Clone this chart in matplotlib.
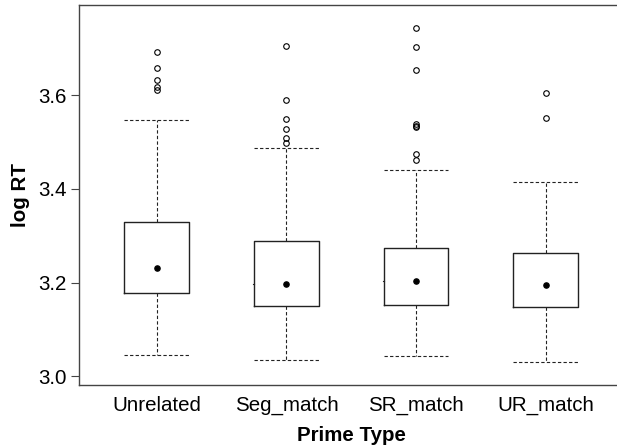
import matplotlib
matplotlib.use("Agg")
import matplotlib.pyplot as plt

plt.rcParams['font.family'] = ['Liberation Sans', 'DejaVu Sans']

prime_types = ['Unrelated', 'Seg_match', 'SR_match', 'UR_match']
q1 = [3.177, 3.150, 3.151, 3.148]
medians = [3.230, 3.196, 3.203, 3.194]
q3 = [3.329, 3.289, 3.274, 3.264]
whisker_lo = [3.046, 3.035, 3.042, 3.030]
whisker_hi = [3.548, 3.488, 3.441, 3.415]
outliers = [
    [3.692, 3.658, 3.633, 3.617, 3.611],
    [3.705, 3.590, 3.549, 3.528, 3.508, 3.499],
    [3.744, 3.704, 3.654, 3.538, 3.535, 3.532, 3.474, 3.462],
    [3.604, 3.551],
]
yticks = [3.0, 3.2, 3.4, 3.6]

stats = []
for i, name in enumerate(prime_types):
    stats.append(dict(label=name, med=medians[i], q1=q1[i], q3=q3[i],
                      whislo=whisker_lo[i], whishi=whisker_hi[i],
                      fliers=outliers[i]))

fig = plt.figure(figsize=(6.17, 4.47), dpi=100)
ax = fig.add_axes([79/617, 62/447, 544.5/617, 380/447])

pos = list(range(1, len(prime_types) + 1))
dash = (0, (3, 2))
ax.bxp(stats, positions=pos, widths=0.5, capwidths=0.5,
       boxprops=dict(color='#222222', linewidth=1.0),
       whiskerprops=dict(color='#222222', linewidth=0.8, linestyle=dash),
       capprops=dict(color='#222222', linewidth=0.8, linestyle=dash),
       medianprops=dict(linewidth=0),
       flierprops=dict(marker='o', markersize=4, markerfacecolor='none',
                       markeredgecolor='black', markeredgewidth=0.8))

# median shown as a filled dot plus a tiny tick on the box edge
ax.scatter(pos, medians, s=14, color='black', zorder=5)
for p, m in zip(pos, medians):
    ax.plot([p - 0.25 - 0.006, p - 0.25], [m, m], color='#222222', lw=0.8)

ax.set_xlim(0.4, 4.6)
ax.set_ylim(2.981, 3.793)
ax.set_yticks(yticks)
ax.set_yticklabels([f'{t:.1f}' for t in yticks])
ax.set_xticks(pos)
ax.set_xticklabels(prime_types)

ax.tick_params(axis='x', length=0, pad=8, labelsize=14.8)
ax.tick_params(axis='y', length=6, width=0.8, color='#444444', pad=3, labelsize=14.8)
for s in ax.spines.values():
    s.set_color('#444444')
    s.set_linewidth(1.0)
ax.spines['right'].set_visible(False)

ax.set_xlabel('Prime Type', fontsize=14.8, fontweight='bold', labelpad=8)
ax.set_ylabel('log RT', fontsize=14.8, fontweight='bold', labelpad=6)

fig.savefig('out.png', dpi=100)
